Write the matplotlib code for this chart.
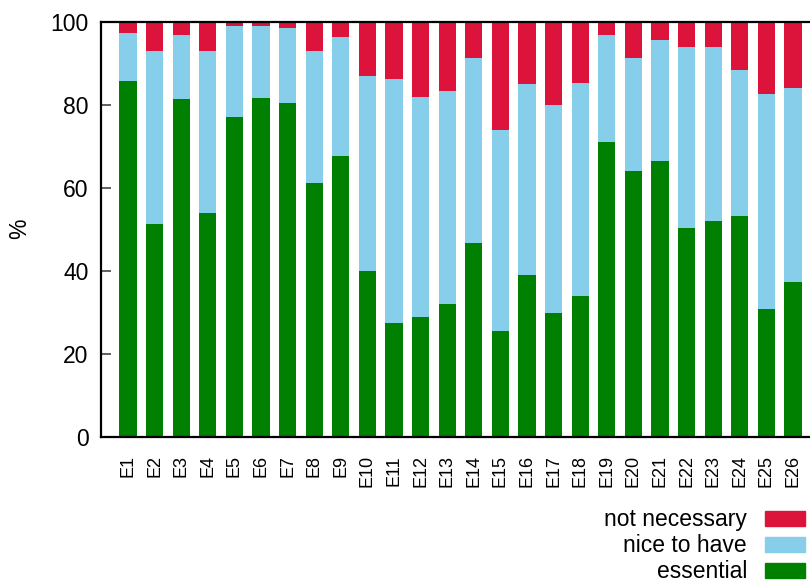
import matplotlib
matplotlib.use("Agg")
import matplotlib.pyplot as plt
from matplotlib.patches import Patch
import numpy as np

categories = [f"E{i}" for i in range(1, 27)]
essential = [85.8, 51.3, 81.4, 54.0, 77.1, 81.7, 80.5, 61.2, 67.7, 40.0,
             27.5, 28.9, 32.0, 46.7, 25.5, 39.0, 29.9, 34.0, 71.1, 64.1,
             66.5, 50.4, 52.0, 53.3, 30.8, 37.3]
nice_top = [97.3, 93.0, 96.9, 93.0, 99.0, 99.0, 98.6, 93.0, 96.4, 87.0,
            86.3, 81.9, 83.4, 91.3, 74.0, 85.1, 80.0, 85.3, 96.9, 91.3,
            95.7, 94.0, 94.0, 88.4, 82.7, 84.1]
nice_to_have = [round(t - e, 1) for t, e in zip(nice_top, essential)]
not_necessary = [round(100 - t, 1) for t in nice_top]

yticks = [0, 20, 40, 60, 80, 100]

FONT = ["Liberation Sans", "DejaVu Sans"]
plt.rcParams["font.family"] = FONT

W, H = 810, 583
fig = plt.figure(figsize=(W / 100, H / 100), dpi=100)
ax = fig.add_axes([101 / W, 146 / H, 719 / W, 415 / H])

x = np.arange(len(categories))
bw = 0.64
c_ess, c_nice, c_not = "#008000", "#87CEEB", "#DC143C"
ax.bar(x, essential, bw, color=c_ess, linewidth=0)
ax.bar(x, nice_to_have, bw, bottom=essential, color=c_nice, linewidth=0)
ax.bar(x, not_necessary, bw, bottom=nice_top, color=c_not, linewidth=0)

ax.set_xlim(-1.015, 26.015)
ax.set_ylim(0, 100)
ax.set_yticks(yticks)
ax.set_yticklabels([str(v) for v in yticks], fontsize=16.5)
ax.tick_params(axis="y", direction="in", length=7, width=1.2, pad=9,
               color="#444444")
ax.set_xticks(x)
ax.set_xticklabels(categories, rotation=90, fontsize=13)
ax.tick_params(axis="x", length=0, pad=13)
for s in ["left", "top", "bottom"]:
    ax.spines[s].set_linewidth(1.6)
    ax.spines[s].set_color("black")
ax.spines["right"].set_visible(False)

fig.text(20 / W, 1 - 229 / H, "%", rotation=90, fontsize=16.5,
         ha="center", va="center")

handles = [Patch(color=c_not, label="not necessary"),
           Patch(color=c_nice, label="nice to have"),
           Patch(color=c_ess, label="essential")]
fig.legend(handles=handles, loc="lower right",
           bbox_to_anchor=(810 / W, -5 / H), frameon=False,
           markerfirst=False, fontsize=16.5, handlelength=1.75,
           handleheight=0.62, handletextpad=0.8, labelspacing=0.13,
           borderpad=0.2, borderaxespad=0)

fig.savefig("out.png", dpi=100)
